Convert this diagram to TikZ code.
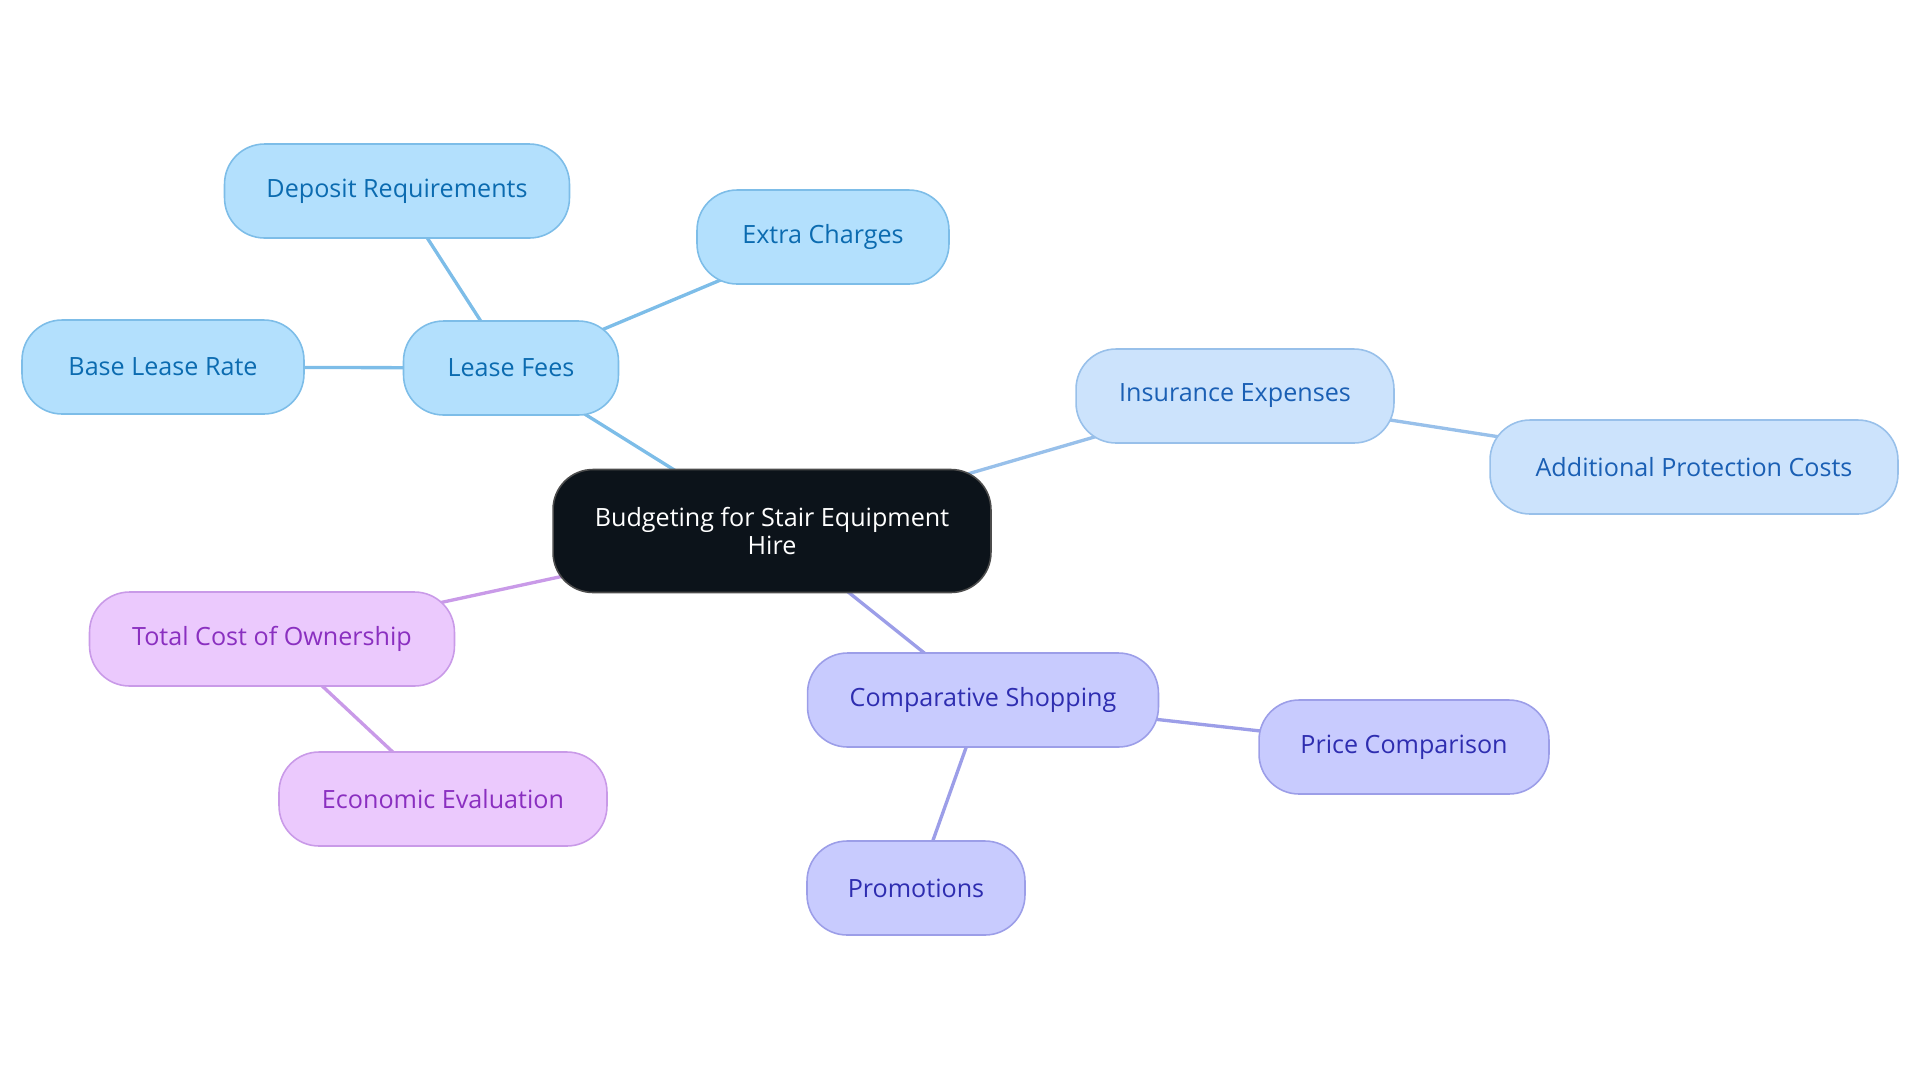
\documentclass[tikz,border=0pt]{standalone}
\usepackage{fontspec}
\setmainfont{Open Sans}
\usepackage{xcolor}
\usepackage{tikz}
\usetikzlibrary{backgrounds}

\definecolor{rootfill}{HTML}{0C131A}
\definecolor{leasefill}{HTML}{B3E0FD}
\definecolor{leasedraw}{HTML}{7DBDE8}
\definecolor{leasetext}{HTML}{0B6BB0}
\definecolor{insfill}{HTML}{CCE3FC}
\definecolor{insdraw}{HTML}{98C0EA}
\definecolor{instext}{HTML}{1A5FB4}
\definecolor{tcofill}{HTML}{EBC9FD}
\definecolor{tcodraw}{HTML}{C99AE8}
\definecolor{tcotext}{HTML}{8A2FC0}
\definecolor{shopfill}{HTML}{C8CBFE}
\definecolor{shopdraw}{HTML}{9C9EE8}
\definecolor{shoptext}{HTML}{2E2DB0}

\begin{document}
\begin{tikzpicture}[
    x=0.02cm, y=-0.02cm,
    pill/.style={rounded corners=0.8cm, minimum height=1.88cm, inner sep=0pt,
      line width=0.9pt, font=\fontsize{14.3}{16.5}\selectfont},
    leaf/.style={pill, fill=leasefill, draw=leasedraw, text=leasetext},
    insleaf/.style={pill, fill=insfill, draw=insdraw, text=instext},
    tcoleaf/.style={pill, fill=tcofill, draw=tcodraw, text=tcotext},
    shopleaf/.style={pill, fill=shopfill, draw=shopdraw, text=shoptext},
    link/.style={line width=1.9pt}
  ]

  \useasboundingbox (0, 0) rectangle (1920, 1083);

  % centre
  \node [pill, fill=rootfill, draw=black!70, text=white, align=center,
    minimum width=8.76cm, minimum height=2.46cm] (root) at (772, 531)
    {Budgeting for Stair Equipment\\Hire};

  % lease fees
  \node [leaf, minimum width=4.3cm] (fees) at (511, 368) {Lease Fees};
  \node [leaf, minimum width=6.9cm] (deposit) at (397, 191) {Deposit Requirements};
  \node [leaf, minimum width=5.04cm] (extra) at (823, 237) {Extra Charges};
  \node [leaf, minimum width=5.64cm] (base) at (163, 367) {Base Lease Rate};

  % insurance
  \node [insleaf, minimum width=6.36cm] (insurance) at (1235, 396) {Insurance Expenses};
  \node [insleaf, minimum width=8.16cm] (protection) at (1694, 467) {Additional Protection Costs};

  % ownership
  \node [tcoleaf, minimum width=7.3cm] (ownership) at (272, 639) {Total Cost of Ownership};
  \node [tcoleaf, minimum width=6.56cm] (evaluation) at (443, 799) {Economic Evaluation};

  % shopping
  \node [shopleaf, minimum width=7.02cm] (shopping) at (983, 700) {Comparative Shopping};
  \node [shopleaf, minimum width=5.8cm] (price) at (1404, 747) {Price Comparison};
  \node [shopleaf, minimum width=4.36cm] (promo) at (916, 888) {Promotions};

  % links
  \begin{scope}[on background layer]
    \draw [link, leasedraw] (root.center) -- (fees.center);
    \draw [link, leasedraw] (fees.center) -- (deposit.center);
    \draw [link, leasedraw] (fees.center) -- (extra.center);
    \draw [link, leasedraw] (fees.center) -- (base.center);
    \draw [link, insdraw] (root.center) -- (insurance.center);
    \draw [link, insdraw] (insurance.center) -- (protection.center);
    \draw [link, tcodraw] (root.center) -- (ownership.center);
    \draw [link, tcodraw] (ownership.center) -- (evaluation.center);
    \draw [link, shopdraw] (root.center) -- (shopping.center);
    \draw [link, shopdraw] (shopping.center) -- (price.center);
    \draw [link, shopdraw] (shopping.center) -- (promo.center);
  \end{scope}

\end{tikzpicture}
\end{document}
